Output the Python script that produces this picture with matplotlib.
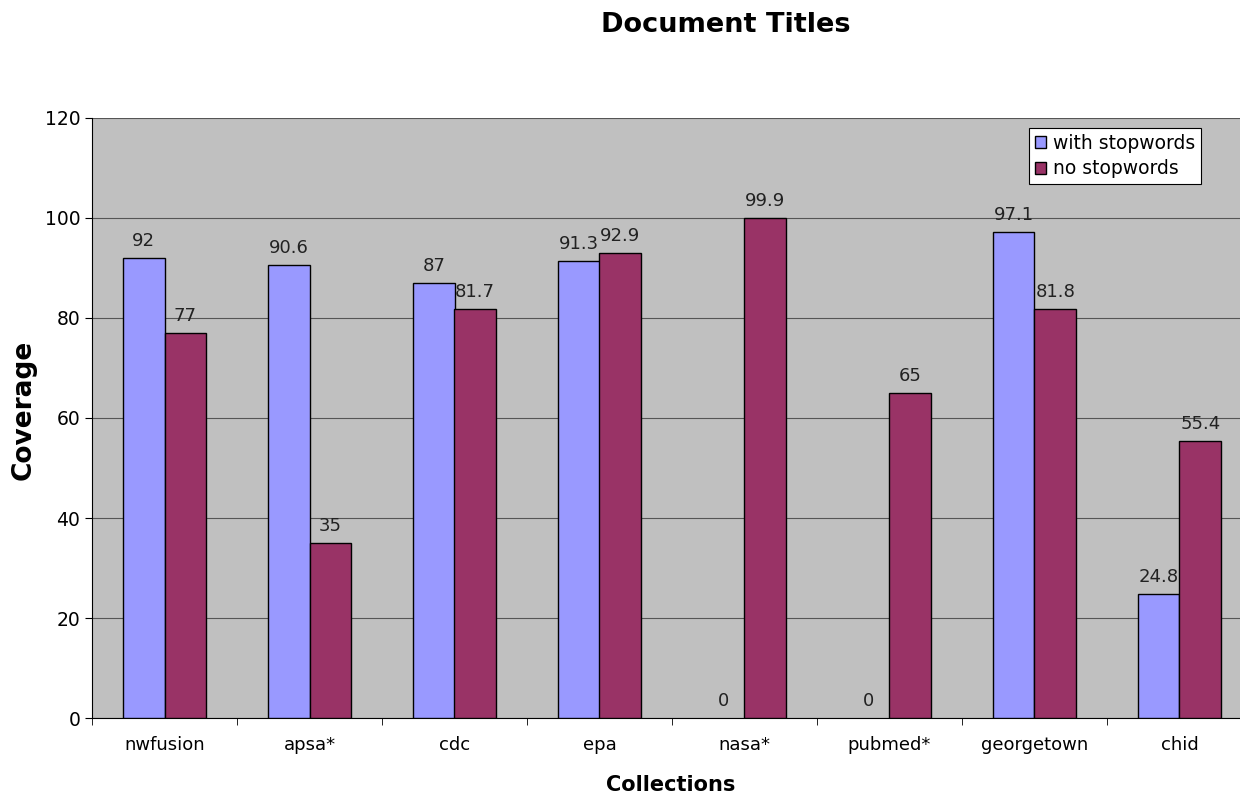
import numpy as np
import matplotlib
matplotlib.use("Agg")
import matplotlib.pyplot as plt

collections = ["nwfusion", "apsa*", "cdc", "epa", "nasa*", "pubmed*", "georgetown", "chid"]
with_stop = [92, 90.6, 87, 91.3, 0, 0, 97.1, 24.8]
no_stop = [77, 35, 81.7, 92.9, 99.9, 65, 81.8, 55.4]

W, H = 1240, 796
fig = plt.figure(figsize=(W / 100, H / 100), dpi=100)
# plot area runs past the right edge of the picture, like the original
left, right, top, bottom = 92, 1252, 118, 718
ax = fig.add_axes([left / W, 1 - bottom / H, (right - left) / W, (bottom - top) / H])
ax.set_facecolor("#C0C0C0")

x = np.arange(len(collections))
bw = 0.2862
b1 = ax.bar(x - bw / 2, with_stop, bw, color="#9999FF", edgecolor="black", linewidth=1, label="with stopwords", zorder=3)
b2 = ax.bar(x + bw / 2, no_stop, bw, color="#993366", edgecolor="black", linewidth=1, label="no stopwords", zorder=3)

for bars, vals in [(b1, with_stop), (b2, no_stop)]:
    for r, v in zip(bars, vals):
        if v == 0:
            r.set_linewidth(0)
        lab = str(int(v)) if float(v).is_integer() else str(v)
        ax.text(r.get_x() + r.get_width() / 2, v + 1.6, lab, ha="center", va="bottom", fontsize=13, color="#222222")

ax.set_xlim(-0.5, len(collections) - 0.5)
ax.set_ylim(0, 120)
ax.set_yticks(range(0, 121, 20))
ax.yaxis.grid(True, color="#555555", linewidth=0.8, zorder=0)
ax.set_axisbelow(True)
ax.set_xticks(x)
ax.set_xticklabels(collections, fontsize=13)
ax.set_xticks(np.arange(-0.5, len(collections), 1), minor=True)
ax.tick_params(axis="x", which="major", length=0, pad=13)
ax.tick_params(axis="x", which="minor", length=5, direction="out")
ax.tick_params(axis="y", labelsize=13.5, length=5, direction="out")
for s in ["top", "right"]:
    ax.spines[s].set_visible(False)
ax.spines["left"].set_color("black")
ax.spines["bottom"].set_color("black")

fig.text(24 / W, 1 - 410 / H, "Coverage", ha="center", va="center", rotation=90, fontsize=19, fontweight="bold")
fig.text(671 / W, 1 - 785 / H, "Collections", ha="center", va="center", fontsize=15, fontweight="bold")
fig.text(726 / W, 1 - 25 / H, "Document Titles", ha="center", va="center", fontsize=19.5, fontweight="bold")

leg = fig.legend(loc="upper left", bbox_to_anchor=(1029 / W, 1 - 128 / H), fontsize=13.5,
                 frameon=True, fancybox=False, edgecolor="black", framealpha=1,
                 handlelength=0.6, handleheight=0.6, handletextpad=0.4, borderpad=0.3,
                 labelspacing=0.35, borderaxespad=0)
leg.get_frame().set_linewidth(0.8)

fig.savefig("out.png", dpi=100)
